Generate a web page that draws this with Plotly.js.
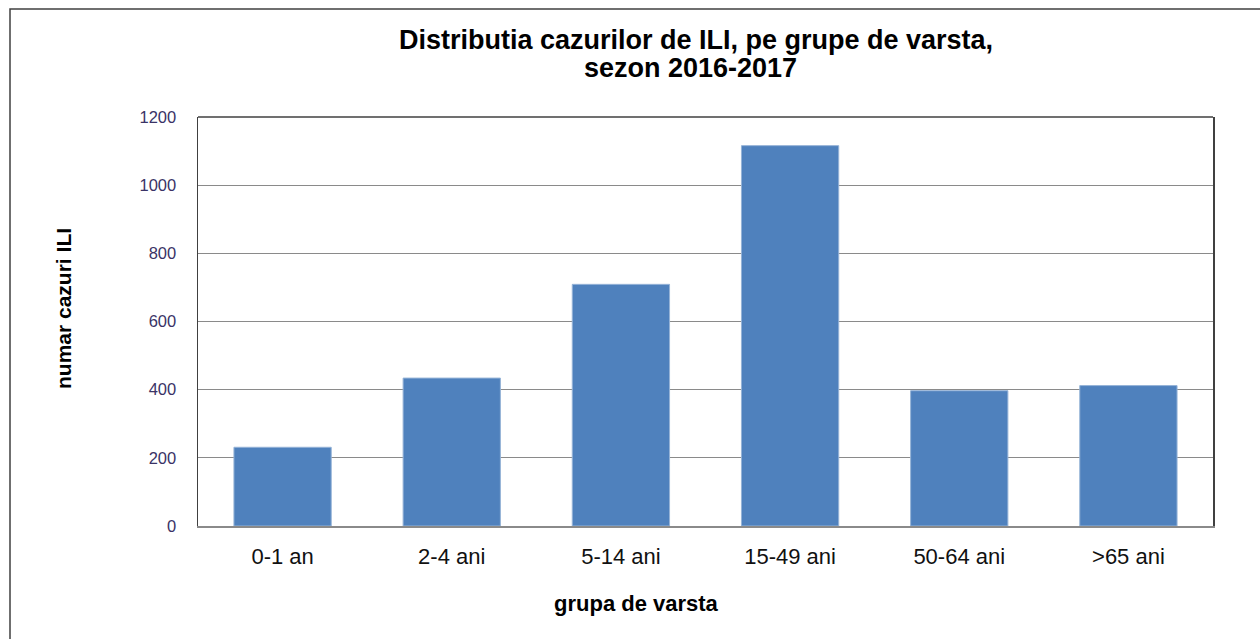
<!DOCTYPE html>
<html>
<head>
<meta charset="utf-8">
<script src="https://cdn.plot.ly/plotly-3.0.1.min.js"></script>
<style>html,body{margin:0;padding:0;background:#fff;}#chart{width:1260px;height:639px;}</style>
</head>
<body>
<div id="chart"></div>
<script>
var categories = ["0-1 an", "2-4 ani", "5-14 ani", "15-49 ani", "50-64 ani", ">65 ani"];
var values = [231, 434, 709, 1116, 397, 412];
var yTicks = [0, 200, 400, 600, 800, 1000, 1200];
var titleLine1 = "Distributia cazurilor de ILI, pe grupe de varsta,";
var titleLine2 = "sezon 2016-2017";

var trace = {
  type: "bar",
  x: categories,
  y: values,
  marker: {color: "#4F81BD", line: {color: "#95B3D7", width: 1}},
  hoverinfo: "x+y"
};

var L = 198, R = 47, T = 117, B = 113;
var W = 1260, H = 639;
var pw = W - L - R, ph = H - T - B;
function px(x) { return (x - L) / pw; }
function py(y) { return (H - B - y) / ph; }

var layout = {
  width: W, height: H,
  margin: {l: L, r: R, t: T, b: B, pad: 0},
  paper_bgcolor: "#ffffff",
  plot_bgcolor: "#ffffff",
  showlegend: false,
  bargap: 0.425,
  font: {family: "Arial, 'Liberation Sans', sans-serif", color: "#000"},
  title: {
    text: "<b>" + titleLine1 + "</b>",
    font: {size: 27, color: "#000"},
    x: 696 / W, xanchor: "center", xref: "container",
    y: 1 - 40 / H, yanchor: "middle", yref: "container"
  },
  xaxis: {
    type: "category",
    showgrid: false,
    showline: true, linecolor: "#8a8a8a", linewidth: 1.5,
    ticks: "", tickfont: {size: 22, color: "#111"},
    ticklabelstandoff: 10,
    fixedrange: true
  },
  yaxis: {
    range: [0, 1200],
    tickvals: yTicks,
    ticktext: yTicks.map(String),
    showgrid: true, gridcolor: "#8a8a8a", gridwidth: 1.3,
    showline: true, linecolor: "#404040", linewidth: 1.5, mirror: true,
    zeroline: false,
    ticks: "", tickfont: {size: 16.5, color: "#3a3366"},
    ticklabelstandoff: 17,
    fixedrange: true
  },
  annotations: [
    {text: "<b>" + titleLine2 + "</b>", xref: "paper", yref: "paper",
     x: px(690), y: py(68), xanchor: "center", yanchor: "middle",
     showarrow: false, font: {size: 27, color: "#000"}},
    {text: "<b>grupa de varsta</b>", xref: "paper", yref: "paper",
     x: px(636), y: py(603), xanchor: "center", yanchor: "middle",
     showarrow: false, font: {size: 22, color: "#000"}},
    {text: "<b>numar cazuri ILI</b>", xref: "paper", yref: "paper",
     x: px(63), y: py(309), xanchor: "center", yanchor: "middle",
     textangle: -90, showarrow: false, font: {size: 21, color: "#000"}}
  ],
  shapes: [
    {type: "line", xref: "paper", yref: "paper", x0: 0, x1: 1, y0: 1, y1: 1,
     line: {color: "#404040", width: 1.5}},
    {type: "rect", xref: "paper", yref: "paper",
     x0: px(10), x1: px(1275), y0: py(650), y1: py(9),
     line: {color: "#404040", width: 1.5}, fillcolor: "rgba(0,0,0,0)"}
  ]
};

Plotly.newPlot("chart", [trace], layout, {displayModeBar: false, staticPlot: true});
</script>
</body>
</html>
